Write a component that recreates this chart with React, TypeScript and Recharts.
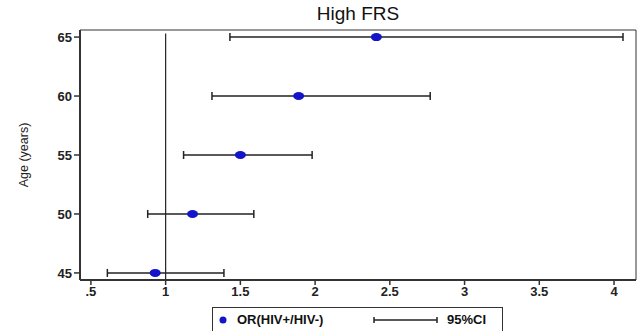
import { ScatterChart, Scatter, XAxis, YAxis, ErrorBar, ReferenceLine, ReferenceArea, Label } from 'recharts';

// forest plot: odds ratio with 95% CI by age
const ages = [65, 60, 55, 50, 45];
const oddsRatio = [2.41, 1.89, 1.5, 1.18, 0.93];
const ciLower = [1.43, 1.31, 1.12, 0.88, 0.61];
const ciUpper = [4.06, 2.77, 1.98, 1.59, 1.39];
const xTicks = [0.5, 1, 1.5, 2, 2.5, 3, 3.5, 4];
const yTicks = [45, 50, 55, 60, 65];

const X_DOMAIN: [number, number] = [0.427, 4.147];
const Y_DOMAIN: [number, number] = [44.4, 65.6];

const FONT = '"Liberation Sans", Arial, sans-serif';

const data = ages.map((age, i) => ({
  age,
  or: oddsRatio[i],
  err: [oddsRatio[i] - ciLower[i], ciUpper[i] - oddsRatio[i]],
}));

const Dot = (props: any) => (
  <ellipse cx={props.cx} cy={props.cy} rx={5.5} ry={4} fill="#1414c8" />
);

export default function App() {
  return (
    <div style={{ position: 'absolute', left: 0, top: 0, width: 638, height: 331, background: '#fff', fontFamily: FONT }}>
      <div style={{ position: 'absolute', left: 80, width: 556, top: 3, textAlign: 'center', fontSize: 19, color: '#111' }}>
        High FRS
      </div>
      <ScatterChart width={638} height={331} margin={{ top: 30, right: 2, left: 0, bottom: 26 }}>
        <XAxis
          type="number"
          dataKey="or"
          domain={X_DOMAIN}
          ticks={xTicks}
          allowDataOverflow
          height={25}
          tickFormatter={(v: number) => String(v).replace(/^0\./, '.')}
          tick={{ fontSize: 13, fill: '#222', fontFamily: FONT, fontWeight: 'bold' }}
          tickSize={5}
          axisLine={{ stroke: '#333', strokeWidth: 2 }}
          tickLine={{ stroke: '#333', strokeWidth: 1.5 }}
        />
        <YAxis
          type="number"
          dataKey="age"
          domain={Y_DOMAIN}
          ticks={yTicks}
          allowDataOverflow
          width={80}
          tick={{ fontSize: 13, fill: '#222', fontFamily: FONT, fontWeight: 'bold' }}
          tickSize={6}
          axisLine={{ stroke: '#333', strokeWidth: 2 }}
          tickLine={{ stroke: '#333', strokeWidth: 1.5 }}
        >
          <Label value="Age (years)" angle={-90} position="insideLeft" offset={24} style={{ fontSize: 12.5, fill: '#222', fontFamily: FONT, textAnchor: 'middle' }} />
        </YAxis>
        <ReferenceArea x1={X_DOMAIN[0]} x2={X_DOMAIN[1]} y1={Y_DOMAIN[0]} y2={Y_DOMAIN[1]} fill="none" stroke="#333" strokeWidth={1} />
        <ReferenceLine segment={[{ x: 1, y: 65.3 }, { x: 1, y: Y_DOMAIN[0] }]} stroke="#222" strokeWidth={1.2} />
        <Scatter data={data} shape={<Dot />} isAnimationActive={false}>
          <ErrorBar dataKey="err" direction="x" width={4} stroke="#222" strokeWidth={1.5} />
        </Scatter>
      </ScatterChart>
      <div style={{ position: 'absolute', left: 212, top: 307, width: 291, height: 26, border: '1.5px solid #333', boxSizing: 'border-box', fontSize: 13, color: '#111' }}>
        <svg width={291} height={26} style={{ position: 'absolute', left: 0, top: 0 }}>
          <ellipse cx={10} cy={12} rx={3.5} ry={3.5} fill="#1414c8" />
          <line x1={161} x2={224} y1={12} y2={12} stroke="#222" strokeWidth={1.5} />
          <line x1={161} x2={161} y1={9} y2={15} stroke="#222" strokeWidth={1.5} />
          <line x1={224} x2={224} y1={9} y2={15} stroke="#222" strokeWidth={1.5} />
        </svg>
        <span style={{ position: 'absolute', left: 24, top: 4, fontWeight: 'bold' }}>OR(HIV+/HIV-)</span>
        <span style={{ position: 'absolute', left: 234, top: 4, fontWeight: 'bold' }}>95%CI</span>
      </div>
    </div>
  );
}
